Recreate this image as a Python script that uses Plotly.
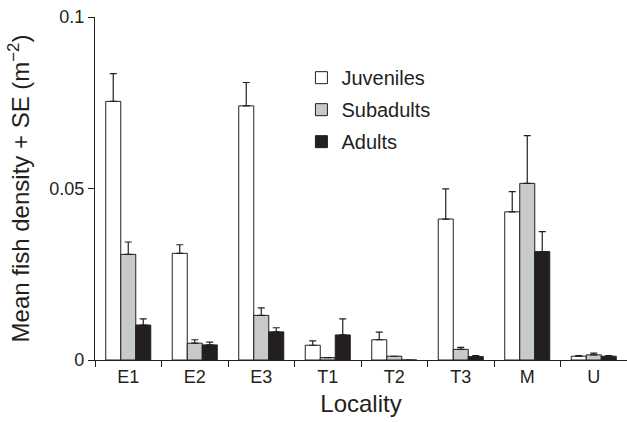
import plotly.graph_objects as go

# Localities along the x axis
localities = ["E1", "E2", "E3", "T1", "T2", "T3", "M", "U"]

# Mean density (fish per m²) per life stage
juveniles = [0.0754, 0.0311, 0.0741, 0.0043, 0.0059, 0.0411, 0.0432, 0.0011]
subadults = [0.0308, 0.0049, 0.0130, 0.0007, 0.0011, 0.0031, 0.0515, 0.0015]
adults = [0.0102, 0.0044, 0.0082, 0.0073, 0.0000, 0.0010, 0.0316, 0.0011]

# Standard errors (drawn upward only)
juveniles_se = [0.0081, 0.0025, 0.0068, 0.0013, 0.0022, 0.0088, 0.0059, 0.0002]
subadults_se = [0.0036, 0.0010, 0.0022, 0.0000, 0.0000, 0.0006, 0.0139, 0.0005]
adults_se = [0.0018, 0.0008, 0.0012, 0.0047, 0.0000, 0.0003, 0.0058, 0.0002]

y_ticks = [0, 0.05, 0.1]
y_tick_labels = ["0", "0.05", "0.1"]

INK = "#231f20"
FONT = "Liberation Sans, Arial, Helvetica, sans-serif"

series = [
    ("Juveniles", juveniles, juveniles_se, "#ffffff"),
    ("Subadults", subadults, subadults_se, "#c8c9cb"),
    ("Adults", adults, adults_se, INK),
]

fig = go.Figure()
for name, vals, se, color in series:
    fig.add_trace(go.Bar(
        name=name,
        x=localities,
        y=vals,
        marker=dict(color=color, line=dict(color=INK, width=1)),
        error_y=dict(
            type="data", symmetric=False, array=se,
            arrayminus=[0] * len(se), color=INK, thickness=1.2, width=3.5,
        ),
        legendgroup=name,
    ))

fig.update_layout(
    width=627, height=422,
    margin=dict(l=95, r=0, t=17, b=62),
    paper_bgcolor="white", plot_bgcolor="white",
    barmode="group", bargap=0.323, bargroupgap=0,
    font=dict(family=FONT, color=INK, size=18),
    showlegend=True,
    legend=dict(
        x=0.388, xanchor="left", y=0.88, yanchor="top",
        font=dict(size=20, color=INK), traceorder="grouped",
        tracegroupgap=3, bgcolor="rgba(0,0,0,0)",
    ),
    xaxis=dict(
        type="category", range=[-0.5, 7.5],
        showline=True, linecolor=INK, linewidth=1.2,
        ticks="outside", tickson="boundaries", ticklen=6,
        tickcolor=INK, tickwidth=1.2,
        tickfont=dict(size=18, color=INK),
        title=dict(text="Locality", font=dict(size=24, color=INK), standoff=9),
        showgrid=False, zeroline=False,
    ),
    yaxis=dict(
        range=[0, 0.1], tickvals=y_ticks, ticktext=y_tick_labels,
        showline=True, linecolor=INK, linewidth=1.2,
        ticks="outside", ticklen=6, tickcolor=INK, tickwidth=1.2,
        tickfont=dict(size=18, color=INK),
        title=dict(text="Mean fish density + SE (m<sup>−2</sup>)",
                   font=dict(size=24, color=INK), standoff=12),
        showgrid=False, zeroline=False,
    ),
)

fig.write_html("out.html")
